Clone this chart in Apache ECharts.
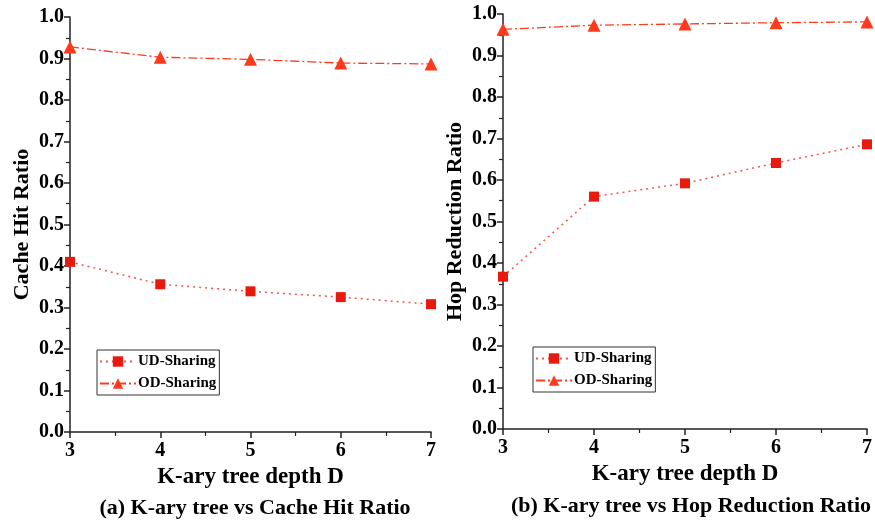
<!DOCTYPE html>
<html>
<head>
<meta charset="utf-8">
<script src="https://cdn.jsdelivr.net/npm/echarts@6/dist/echarts.min.js"></script>
<style>
  html, body { margin: 0; padding: 0; background: #fff; }
  #main { width: 875px; height: 520px; }
</style>
</head>
<body>
<div id="main"></div>
<script>
// data
const depth = [3, 4, 5, 6, 7]
const cacheUD = [0.410, 0.356, 0.339, 0.325, 0.308]
const cacheOD = [0.928, 0.903, 0.898, 0.889, 0.887]
const hopUD = [0.367, 0.560, 0.592, 0.641, 0.686]
const hopOD = [0.963, 0.973, 0.976, 0.979, 0.981]
const yTicks = ['0.0', '0.1', '0.2', '0.3', '0.4', '0.5', '0.6', '0.7', '0.8', '0.9', '1.0']

const font = 'Liberation Serif'
const udColor = '#e8190d'
const odColor = '#ff3a1c'

const pairs = (xs, ys) => xs.map((x, i) => [x, ys[i]])

function xAxisOf(gridIndex) {
  return {
    type: 'value', gridIndex: gridIndex, min: 3, max: 7, interval: 1,
    name: 'K-ary tree depth D', nameLocation: 'middle', nameGap: 26,
    nameTextStyle: { fontFamily: font, fontWeight: 'bold', fontSize: 23, color: '#000' },
    axisLine: { lineStyle: { color: '#222', width: 1.5 } },
    axisTick: { inside: false, length: 6, lineStyle: { color: '#222', width: 1.5 } },
    minorTick: { show: true, splitNumber: 2, length: 4, lineStyle: { color: '#222', width: 1.2 } },
    axisLabel: { fontFamily: font, fontWeight: 'bold', fontSize: 20, color: '#000', margin: 9 },
    splitLine: { show: false }
  }
}

function yAxisOf(gridIndex, name) {
  return {
    type: 'value', gridIndex: gridIndex, min: 0, max: 1, interval: 0.1,
    name: name, nameLocation: 'middle', nameGap: 37,
    nameTextStyle: { fontFamily: font, fontWeight: 'bold', fontSize: 22, color: '#000' },
    axisLine: { show: true, lineStyle: { color: '#222', width: 1.5 } },
    axisTick: { show: true, length: 6, lineStyle: { color: '#222', width: 1.5 } },
    minorTick: { show: true, splitNumber: 2, length: 4, lineStyle: { color: '#222', width: 1.2 } },
    axisLabel: {
      fontFamily: font, fontWeight: 'bold', fontSize: 20, color: '#000', margin: 6,
      formatter: (v) => yTicks[Math.round(v * 10)]
    },
    splitLine: { show: false }
  }
}

function udSeries(idx, data) {
  return {
    name: 'UD-Sharing', type: 'line', xAxisIndex: idx, yAxisIndex: idx,
    data: pairs(depth, data), symbol: 'rect', symbolSize: 10, clip: false,
    itemStyle: { color: udColor },
    lineStyle: { color: '#f0574c', width: 1.5, type: [2, 4] }
  }
}

function odSeries(idx, data) {
  return {
    name: 'OD-Sharing', type: 'line', xAxisIndex: idx, yAxisIndex: idx,
    data: pairs(depth, data), symbol: 'triangle', symbolSize: 13, clip: false,
    itemStyle: { color: odColor },
    lineStyle: { color: odColor, width: 1.3, type: [9, 3, 2, 3] }
  }
}

function legendOf(left, top) {
  return {
    left: left, top: top, orient: 'vertical',
    data: ['UD-Sharing', 'OD-Sharing'],
    itemWidth: 36, itemHeight: 13, itemGap: 7,
    padding: [4, 3, 4, 2],
    borderColor: '#333', borderWidth: 1,
    textStyle: { fontFamily: font, fontWeight: 'bold', fontSize: 15, color: '#000', padding: [0, 0, 0, -3] }
  }
}

const myChart = echarts.init(document.getElementById('main'), null, { renderer: 'canvas' })
const option = {
  animation: false,
  backgroundColor: '#fff',
  title: [
    {
      text: '(a) K-ary tree vs Cache Hit Ratio', left: 250, top: 492, textAlign: 'center',
      textStyle: { fontFamily: font, fontWeight: 'bold', fontSize: 22, color: '#000' }
    },
    {
      text: '(b) K-ary tree vs Hop Reduction Ratio', left: 686, top: 490, textAlign: 'center',
      textStyle: { fontFamily: font, fontWeight: 'bold', fontSize: 22, color: '#000' }
    }
  ],
  grid: [
    { left: 70, top: 17, width: 361, height: 415 },
    { left: 503, top: 14, width: 369, height: 415 }
  ],
  xAxis: [xAxisOf(0), xAxisOf(1)],
  yAxis: [yAxisOf(0, 'Cache Hit Ratio'), yAxisOf(1, 'Hop Reduction Ratio')],
  legend: [legendOf(97, 350), legendOf(533, 347)],
  series: [
    udSeries(0, cacheUD),
    odSeries(0, cacheOD),
    udSeries(1, hopUD),
    odSeries(1, hopOD)
  ]
}
myChart.setOption(option)
</script>
</body>
</html>
